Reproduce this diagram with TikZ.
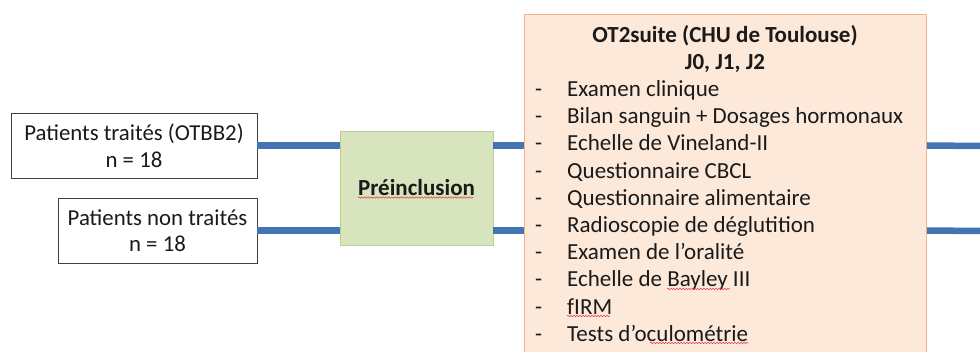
\documentclass[tikz,border=0pt]{standalone}
\usepackage{fontspec}
\setmainfont{Carlito}
\usetikzlibrary{decorations.pathmorphing}
\definecolor{lineblue}{HTML}{4375B5}
\definecolor{peachfill}{HTML}{FDE9DA}
\definecolor{peachdraw}{HTML}{F5B282}
\definecolor{greenfill}{HTML}{D7E4BD}
\definecolor{greendraw}{HTML}{BCD095}
\definecolor{boxdraw}{HTML}{3F3F3F}
\definecolor{spellred}{HTML}{E04050}
\definecolor{txt}{HTML}{1A1A1A}
\tikzset{
  patbox/.style={draw=boxdraw, line width=0.9pt, fill=white, align=center, inner sep=0pt,
     minimum height=65pt, text=txt, font=\fontsize{22.8}{26.5}\selectfont},
  inclbox/.style={draw=greendraw, line width=0.9pt, fill=greenfill, inner sep=0pt, text=txt,
     minimum width=153pt, minimum height=114pt, font=\fontsize{23}{26}\selectfont\bfseries},
  otbox/.style={draw=peachdraw, line width=0.9pt, fill=peachfill, inner sep=0pt,
     minimum width=402pt, minimum height=360pt},
  conn/.style={draw=lineblue, line width=6.5pt},
  itemtxt/.style={anchor=base west, inner sep=0pt, text=txt, font=\fontsize{23}{26}\selectfont},
  titletxt/.style={anchor=base, inner sep=0pt, text=txt, font=\fontsize{23}{26}\selectfont\bfseries},
  spell/.style={draw=spellred, line width=0.6pt, decorate,
     decoration={snake, amplitude=0.7pt, segment length=3pt}}
}
\begin{document}
\begin{tikzpicture}[x=1pt,y=-1pt]
\useasboundingbox (0,0) rectangle (980,352);
\clip (0,0) rectangle (980,352);
\node[otbox, anchor=north west] (ot) at (524,14) {};
\node[patbox, minimum width=246pt] (pt) at (134,145.5) {Patients traités (OTBB2)\\n = 18};
\node[patbox, minimum width=199pt] (pnt) at (157.5,230.5) {Patients non traités\\n = 18};
\node[inclbox] (pre) at (416.5,188) {Préinclusion};
% connectors
\coordinate (r1) at (980,146);
\coordinate (r2) at (980,231);
\draw[conn] (pt.east) -- (pt.east -| pre.west);
\draw[conn] (pt.east -| pre.east) -- (pt.east -| ot.west);
\draw[conn] (pt.east -| ot.east) -- (r1);
\draw[conn] (pnt.east) -- (pnt.east -| pre.west);
\draw[conn] (pnt.east -| pre.east) -- (pnt.east -| ot.west);
\draw[conn] (pnt.east -| ot.east) -- (r2);
% texts in the orange box
\node[titletxt] (t1) at (725,42.5) {OT2suite (CHU de Toulouse)};
\node[titletxt] (t2) at (725,69.5) {J0, J1, J2};
\foreach \txt [count=\i] in {Examen clinique, Bilan sanguin + Dosages hormonaux,
   Echelle de Vineland-II, Questionnaire CBCL, Questionnaire alimentaire,
   Radioscopie de déglutition, Examen de l’oralité, Echelle de Bayley III,
   fIRM, Tests d’oculométrie}{
  \node[itemtxt] (d\i) at (535,96.5+27.2*\i-27.2) {-};
  \node[itemtxt] (it\i) at (567,96.5+27.2*\i-27.2) {\txt};
}
% spell-check marks
\draw[spell] (358,197.5) -- (473,197.5);
\draw[spell] (667,289) -- (730,289);
\draw[spell] (567,316) -- (610,316);
\draw[spell] (650,343) -- (748,343);
\end{tikzpicture}
\end{document}
